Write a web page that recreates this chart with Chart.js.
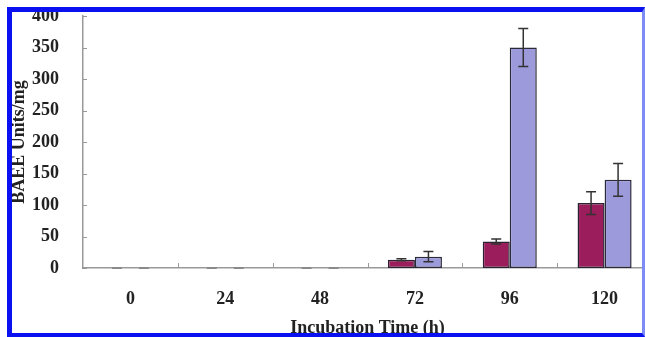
<!DOCTYPE html>
<html>
<head>
<meta charset="utf-8">
<script src="https://cdn.jsdelivr.net/npm/chart.js@4"></script>
<style>
  html, body { margin: 0; padding: 0; background: #fff; overflow: hidden; }
  #wrap { position: relative; width: 645px; height: 337px; overflow: hidden; background: #fff; }
  #frame {
    position: absolute; left: 7px; top: 7px; right: 0; bottom: 0;
    border-left: 5px solid #0a10f0; border-top: 5px solid #0a10f0;
    border-bottom: 4px solid #0a10f0; border-right: 3px solid #7d8cf5;
    pointer-events: none;
  }
</style>
</head>
<body>
<div id="wrap">
  <canvas id="myChart" width="660" height="345"></canvas>
  <div id="frame"></div>
</div>
<script>
const hours = ["0", "24", "48", "72", "96", "120"];
const seriesA = [0, 0, 0, 13, 42, 103];
const errorsA = [0, 0, 0, 1.5, 4, 18];
const seriesB = [0, 0, 0, 18, 350, 140];
const errorsB = [0, 0, 0, 8, 30, 26];
const yTicks = [0, 50, 100, 150, 200, 250, 300, 350, 400];

const serif = "'Liberation Serif', 'DejaVu Serif', serif";

// error bars and the little inward tick marks
const extras = {
  id: "extras",
  afterDatasetsDraw(chart) {
    const ctx = chart.ctx;
    const y = chart.scales.y;
    const x = chart.scales.x;
    ctx.save();
    chart.data.datasets.forEach((ds, i) => {
      const meta = chart.getDatasetMeta(i);
      meta.data.forEach((bar, j) => {
        const v = ds.data[j];
        const e = ds.errors[j];
        const top = y.getPixelForValue(v + e);
        const bot = y.getPixelForValue(v - e);
        ctx.strokeStyle = e === 0 ? "#8a8a8a" : "#333";
        ctx.lineWidth = e === 0 ? 2 : 1.5;
        ctx.beginPath();
        ctx.moveTo(bar.x, top); ctx.lineTo(bar.x, bot);
        ctx.moveTo(bar.x - 5, top); ctx.lineTo(bar.x + 5, top);
        ctx.moveTo(bar.x - 5, bot); ctx.lineTo(bar.x + 5, bot);
        ctx.stroke();
      });
    });
    ctx.strokeStyle = "#999";
    ctx.lineWidth = 1;
    ctx.beginPath();
    yTicks.forEach((t) => {
      const py = Math.round(y.getPixelForValue(t)) + 0.5;
      ctx.moveTo(x.left, py); ctx.lineTo(x.left + 4, py);
    });
    for (let k = 1; k < hours.length; k++) {
      const px = Math.round((x.getPixelForTick(k - 1) + x.getPixelForTick(k)) / 2) + 0.5;
      ctx.moveTo(px, y.bottom); ctx.lineTo(px, y.bottom - 5);
    }
    ctx.stroke();
    ctx.restore();
  },
};

const ctx = document.getElementById("myChart").getContext("2d");

const myChart = new Chart(ctx, {
  type: "bar",
  data: {
    labels: hours,
    datasets: [
      {
        label: "A",
        data: seriesA,
        errors: errorsA,
        backgroundColor: "#9b1d5b",
        borderColor: "#2a2233",
        borderWidth: 1.5,
        borderSkipped: false,
      },
      {
        label: "B",
        data: seriesB,
        errors: errorsB,
        backgroundColor: "#9c9adb",
        borderColor: "#2a2a3a",
        borderWidth: 1.5,
        borderSkipped: false,
      },
    ],
  },
  options: {
    responsive: false,
    animation: false,
    events: [],
    layout: { padding: { top: 16, right: 8, left: 0, bottom: 0 } },
    categoryPercentage: 0.57,
    barPercentage: 1.0,
    plugins: { legend: { display: false }, tooltip: { enabled: false } },
    scales: {
      x: {
        afterFit: (s) => { s.height = 345 - 268; s.paddingRight = 0; s.paddingLeft = 0; },
        grid: { display: false },
        border: { display: true, color: "#999", width: 1.5 },
        ticks: {
          color: "#222",
          padding: 13,
          font: { family: serif, size: 18, weight: "bold" },
        },
        title: {
          display: true,
          text: "Incubation Time (h)",
          color: "#222",
          padding: { top: 0, bottom: 6 },
          font: { family: serif, size: 18, weight: "bold" },
        },
      },
      y: {
        min: 0,
        max: 400,
        afterFit: (s) => { s.width = 83; s.paddingTop = 0; s.paddingBottom = 0; },
        afterBuildTicks: (s) => { s.ticks = yTicks.map((v) => ({ value: v })); },
        grid: { display: false },
        border: { display: true, color: "#999", width: 1.5 },
        ticks: {
          color: "#222",
          padding: 16,
          font: { family: serif, size: 18, weight: "bold" },
        },
        title: {
          display: true,
          text: "BAEE Units/mg",
          color: "#222",
          padding: { top: 9, bottom: 0 },
          font: { family: serif, size: 18, weight: "bold" },
        },
      },
    },
  },
  plugins: [extras],
});
</script>
</body>
</html>
